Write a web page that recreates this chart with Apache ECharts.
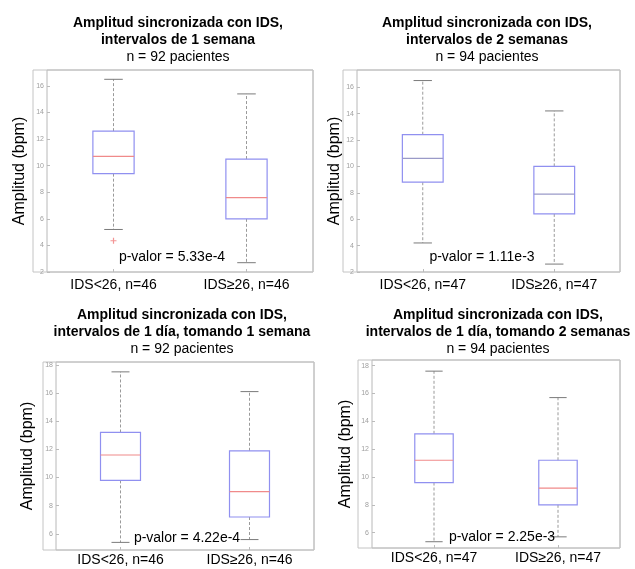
<!DOCTYPE html>
<html>
<head>
<meta charset="utf-8">
<script src="https://cdn.jsdelivr.net/npm/echarts@6/dist/echarts.min.js"></script>
<style>
  body { margin: 0; background: #fff; }
  #main { width: 635px; height: 569px; }
</style>
</head>
<body>
<div id="main"></div>
<script>
// categorias de cada panel
var categorias1 = ['IDS<26, n=46', 'IDS\u226526, n=46'];
var categorias2 = ['IDS<26, n=47', 'IDS\u226526, n=47'];

// cajas: [min, Q1, mediana, Q3, max]
var cajas1 = [[5.2, 9.4, 10.7, 12.6, 16.5], [2.7, 6.0, 7.6, 10.5, 15.4]];
var cajas2 = [[4.2, 8.8, 10.6, 12.4, 16.5], [2.6, 6.4, 7.9, 10.0, 14.2]];
var cajas3 = [[5.4, 9.8, 11.6, 13.2, 17.5], [5.6, 7.2, 9.0, 11.9, 16.1]];
var cajas4 = [[5.35, 9.6, 11.2, 13.1, 17.6], [5.7, 8.0, 9.2, 11.2, 15.7]];

// atipicos (solo panel 1)
var atipicos1 = [[0, 4.35]];

// marcas del eje y
var marcas1 = [2, 4, 6, 8, 10, 12, 14, 16];
var marcas3 = [6, 8, 10, 12, 14, 16, 18];
var rango1 = [2, 17.2];
var rango2 = [2, 17.3];
var rango3 = [4.86, 18.2];
var rango4 = [4.9, 18.4];

var titulos = [
  'Amplitud sincronizada con IDS,\nintervalos de 1 semana',
  'Amplitud sincronizada con IDS,\nintervalos de 2 semanas',
  'Amplitud sincronizada con IDS,\nintervalos de 1 d\u00eda, tomando 1 semana',
  'Amplitud sincronizada con IDS,\nintervalos de 1 d\u00eda, tomando 2 semanas'
];
var subtitulos = ['n = 92 pacientes', 'n = 94 pacientes', 'n = 92 pacientes', 'n = 94 pacientes'];
var pvalores = ['p-valor = 5.33e-4', 'p-valor = 1.11e-3', 'p-valor = 4.22e-4', 'p-valor = 2.25e-3'];

var fuente = '"Liberation Sans", Arial, sans-serif';

function filas(cajas) {
  var r = [];
  for (var i = 0; i < cajas.length; i++) {
    r.push([i].concat(cajas[i]));
  }
  return r;
}

// dibuja una caja estilo matlab (bigotes punteados, mediana de color)
function hacerCaja(colorMediana) {
  return function (params, api) {
    var x = api.value(0);
    var lo = api.coord([x, api.value(1)]);
    var q1 = api.coord([x, api.value(2)]);
    var md = api.coord([x, api.value(3)]);
    var q3 = api.coord([x, api.value(4)]);
    var hi = api.coord([x, api.value(5)]);
    var ancho = api.size([1, 0])[0] * 0.31;
    var cx = lo[0];
    var cap = ancho * 0.45;
    var bigote = { stroke: '#9a9a9a', lineWidth: 1, lineDash: [3, 2] };
    var tope = { stroke: '#7a7a7a', lineWidth: 1 };
    return {
      type: 'group',
      children: [
        { type: 'line', shape: { x1: cx, y1: q3[1], x2: cx, y2: hi[1] }, style: bigote },
        { type: 'line', shape: { x1: cx, y1: q1[1], x2: cx, y2: lo[1] }, style: bigote },
        { type: 'line', shape: { x1: cx - cap / 2, y1: hi[1], x2: cx + cap / 2, y2: hi[1] }, style: tope },
        { type: 'line', shape: { x1: cx - cap / 2, y1: lo[1], x2: cx + cap / 2, y2: lo[1] }, style: tope },
        { type: 'rect', shape: { x: cx - ancho / 2, y: q3[1], width: ancho, height: q1[1] - q3[1] },
          style: { fill: 'none', stroke: '#9090f0', lineWidth: 1.2 } },
        { type: 'line', shape: { x1: cx - ancho / 2, y1: md[1], x2: cx + ancho / 2, y2: md[1] },
          style: { stroke: colorMediana, lineWidth: 1.2 } }
      ]
    };
  };
}

var paneles = [
  { left: 47, top: 70, width: 266, height: 202, marco: [33, 70, 280, 202], cat: categorias1, cajas: cajas1, marcas: marcas1, rango: rango1,
    tx: 178, ty: 14.5, gap: 19, med: '#f08a8a', px: 172, py: 257 },
  { left: 357, top: 70, width: 263, height: 202, marco: [343, 70, 277, 202], cat: categorias2, cajas: cajas2, marcas: marcas1, rango: rango2,
    tx: 487, ty: 14.5, gap: 11, med: '#9a9ac8', px: 482, py: 257 },
  { left: 56, top: 362, width: 258, height: 188, marco: [43, 362, 271, 188], cat: categorias1, cajas: cajas3, marcas: marcas3, rango: rango3,
    tx: 182, ty: 306.5, gap: 20, med: '#f08a8a', px: 187, py: 538 },
  { left: 372, top: 360, width: 248, height: 188, marco: [358, 360, 262, 188], cat: categorias2, cajas: cajas4, marcas: marcas3, rango: rango4,
    tx: 498, ty: 306.5, gap: 18, med: '#f08a8a', px: 502, py: 537 }
];

var grids = [], xAxes = [], yAxes = [], series = [], titles = [], graficos = [];
var i;
for (i = 0; i < paneles.length; i++) {
  var p = paneles[i];
  grids.push({ left: p.left, top: p.top, width: p.width, height: p.height, show: true,
    borderColor: '#b8b8b8', borderWidth: 1, backgroundColor: '#fff' });
  xAxes.push({
    type: 'category', gridIndex: i, data: p.cat,
    axisLine: { show: false },
    axisTick: { show: true, inside: true, alignWithLabel: true, length: 3, lineStyle: { color: '#bbb' } },
    axisLabel: { color: '#000', fontSize: 14, fontFamily: fuente, margin: i < 2 ? 6 : 3 }
  });
  yAxes.push({
    type: 'value', gridIndex: i, min: p.rango[0], max: p.rango[1],
    name: 'Amplitud (bpm)', nameLocation: 'middle', nameGap: p.gap,
    nameTextStyle: { color: '#000', fontSize: 16, fontFamily: fuente },
    axisLine: { show: false },
    splitLine: { show: false },
    axisTick: { show: true, inside: true, length: 3, lineStyle: { color: '#bbb' }, customValues: p.marcas },
    axisLabel: { color: '#a0a0a0', fontSize: 7, fontFamily: fuente, margin: 3, customValues: p.marcas }
  });
  series.push({
    type: 'custom', xAxisIndex: i, yAxisIndex: i,
    renderItem: hacerCaja(p.med),
    encode: { x: 0, y: [1, 2, 3, 4, 5] },
    data: filas(p.cajas),
    silent: true, z: 3
  });
  titles.push({
    text: titulos[i], subtext: subtitulos[i],
    left: p.tx, top: p.ty, textAlign: 'center', itemGap: 0, padding: 0,
    textStyle: { fontSize: 14, fontWeight: 'bold', color: '#000', fontFamily: fuente, lineHeight: 17 },
    subtextStyle: { fontSize: 14, color: '#000', fontFamily: fuente, lineHeight: 17 }
  });
  graficos.push({
    type: 'rect', z: 0,
    shape: { x: p.marco[0], y: p.marco[1], width: p.marco[2], height: p.marco[3] },
    style: { fill: 'none', stroke: '#c4c4c4', lineWidth: 1 }
  });
  graficos.push({
    type: 'text', z: 100,
    style: { text: pvalores[i], x: p.px, y: p.py, textAlign: 'center', textVerticalAlign: 'middle', verticalAlign: 'middle',
      font: '14px ' + fuente, fill: '#000' }
  });
}

// atipico en rojo, panel 1
series.push({
  type: 'scatter', xAxisIndex: 0, yAxisIndex: 0,
  data: atipicos1,
  symbol: 'path://M4,0L6,0L6,4L10,4L10,6L6,6L6,10L4,10L4,6L0,6L0,4L4,4Z',
  symbolSize: 6,
  itemStyle: { color: '#f07a7a' },
  silent: true, z: 4
});

var chart = echarts.init(document.getElementById('main'), null, { renderer: 'canvas' });
chart.setOption({
  backgroundColor: '#fff',
  animation: false,
  title: titles,
  grid: grids,
  xAxis: xAxes,
  yAxis: yAxes,
  series: series,
  graphic: graficos
});
</script>
</body>
</html>
